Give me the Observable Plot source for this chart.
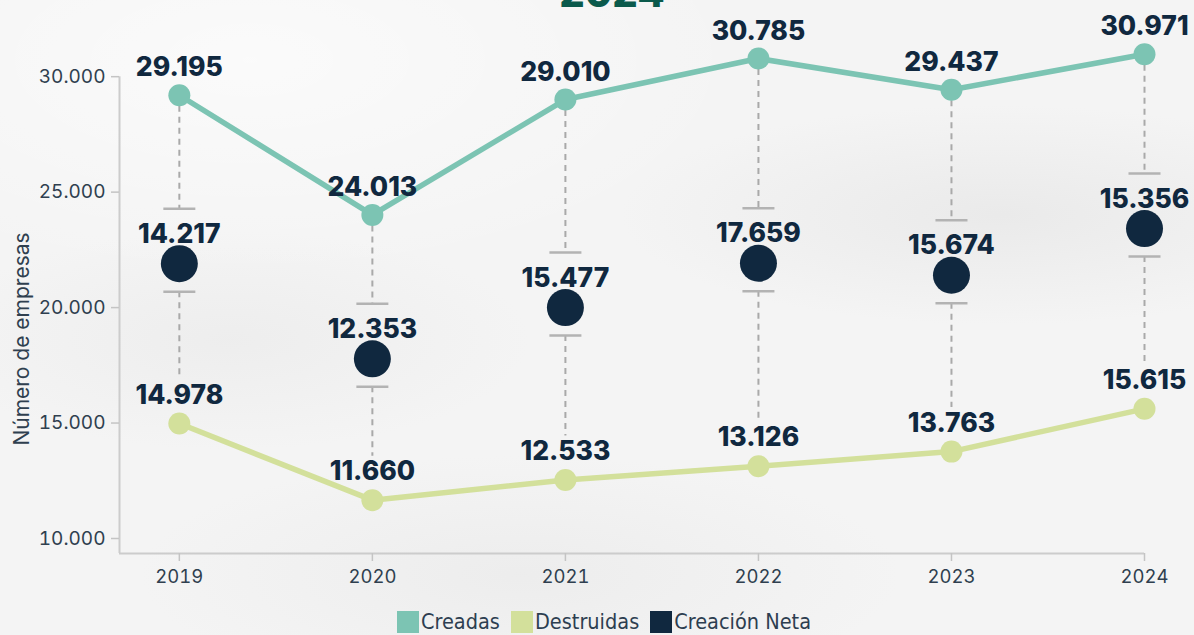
<!DOCTYPE html>
<html>
<head>
<meta charset="utf-8">
<script src="https://cdn.jsdelivr.net/npm/d3@7"></script>
<script src="https://cdn.jsdelivr.net/npm/@observablehq/plot@0.6"></script>
<style>
  html, body { margin: 0; padding: 0; }
  body {
    width: 1194px; height: 635px; overflow: hidden; position: relative;
    background:
      radial-gradient(ellipse 380px 110px at 1000px 215px, rgba(215,215,215,0.35), rgba(215,215,215,0) 100%),
      radial-gradient(ellipse 380px 120px at 520px 575px, rgba(220,220,220,0.30), rgba(220,220,220,0) 100%),
      radial-gradient(ellipse 300px 110px at 230px 340px, rgba(222,222,222,0.30), rgba(222,222,222,0) 100%),
      radial-gradient(ellipse 500px 220px at 250px 60px, rgba(255,255,255,0.6), rgba(255,255,255,0) 100%),
      #f4f4f4;
    font-family: Inter, sans-serif;
  }
  #title {
    position: absolute; top: -27px; left: 0; width: 1194px; padding-left: 30px; box-sizing: border-box;
    text-align: center; font: 800 40px/40px Inter, sans-serif; color: #0b5a4c;
  }
  #legend {
    position: absolute; top: 609px; left: 0; width: 1194px; padding-left: 14px; box-sizing: border-box;
    display: flex; justify-content: center; gap: 11px;
    font-family: "DejaVu Sans Condensed", "Liberation Sans Narrow", sans-serif; font-stretch: condensed;
    font-size: 21.5px; color: #2d3e50; line-height: 25px;
  }
  #legend .item { display: flex; align-items: center; gap: 2px; }
  #legend .sw { width: 22px; height: 22px; display: inline-block; }
</style>
</head>
<body>
<div id="title">2024</div>
<div id="chart"></div>
<div id="legend"></div>
<script>
// ---- data ----
const years = [2019, 2020, 2021, 2022, 2023, 2024];
const creadas = [29195, 24013, 29010, 30785, 29437, 30971];
const destruidas = [14978, 11660, 12533, 13126, 13763, 15615];
const neta = [14217, 12353, 15477, 17659, 15674, 15356];
// vertical position of the "Creación Neta" dot as drawn in the picture
const netaPos = [21900, 17780, 20000, 21920, 21400, 23420];
const yTicks = [10000, 15000, 20000, 25000, 30000];
const seriesNames = ["Creadas", "Destruidas", "Creación Neta"];
const seriesColors = ["#7cc4b3", "#d3e09b", "#10283f"];

const xDomain = [2018.69, 2024];
const yDomain = [9350, 32000];

const rows = years.map((year, i) => ({
  year, creadas: creadas[i], destruidas: destruidas[i], neta: neta[i], pos: netaPos[i]
}));

const fmt = d3.formatLocale({decimal: ",", thousands: ".", grouping: [3], currency: ["", "€"]}).format(",d");

const capSymbol = {
  draw(context) { context.moveTo(-16, 0); context.lineTo(16, 0); }
};

const labelFont = {fontFamily: "Inter, sans-serif", fontWeight: 800, fontSize: 26.5, fill: "#10283f", lineAnchor: "bottom", textAnchor: "middle"};

const chart = Plot.plot({
  width: 1194,
  height: 605,
  marginLeft: 119,
  marginRight: 50,
  marginTop: 30,
  marginBottom: 52,
  style: {background: "transparent", overflow: "visible", fontFamily: "Inter, sans-serif"},
  x: {type: "linear", domain: xDomain},
  y: {type: "linear", domain: yDomain},
  marks: [
    // axis lines
    Plot.ruleX([xDomain[0]], {y1: yTicks[yTicks.length - 1], y2: yDomain[0], stroke: "#cccccc", strokeWidth: 2}),
    Plot.ruleY([yDomain[0]], {x1: xDomain[0], x2: years[years.length - 1], stroke: "#cccccc", strokeWidth: 2}),
    Plot.axisY({ticks: yTicks, tickFormat: fmt, tickSize: 8, tickPadding: 6, stroke: "#c4c4c4", strokeWidth: 1.5,
      fill: "#2f3f4f", fontSize: 19, label: null}),
    Plot.axisX({ticks: years, tickFormat: d => String(d), tickSize: 8, tickPadding: 8, stroke: "#c4c4c4", strokeWidth: 1.5,
      fill: "#2f3f4f", fontSize: 18.5, label: null}),
    Plot.text(["Número de empresas"], {frameAnchor: "left", textAnchor: "middle", rotate: -90, dx: -97, dy: 47, fontSize: 21, fill: "#2f3f4f"}),
    // dashed connectors
    Plot.ruleX(rows, {x: "year", y1: "creadas", y2: "pos", insetBottom: 55, stroke: "#a9a9a9", strokeWidth: 2, strokeDasharray: "6,5"}),
    Plot.ruleX(rows, {x: "year", y1: "pos", y2: "destruidas", insetTop: 28, insetBottom: 44, stroke: "#a9a9a9", strokeWidth: 2, strokeDasharray: "6,5"}),
    // caps
    Plot.dot(rows, {x: "year", y: "pos", dy: -55, symbol: capSymbol, stroke: "#b3b3b3", strokeWidth: 2.5, fill: "none"}),
    Plot.dot(rows, {x: "year", y: "pos", dy: 28, symbol: capSymbol, stroke: "#b3b3b3", strokeWidth: 2.5, fill: "none"}),
    // lines
    Plot.line(rows, {x: "year", y: "creadas", stroke: seriesColors[0], strokeWidth: 5.5}),
    Plot.line(rows, {x: "year", y: "destruidas", stroke: seriesColors[1], strokeWidth: 5.5}),
    Plot.dot(rows, {x: "year", y: "creadas", r: 11, fill: seriesColors[0]}),
    Plot.dot(rows, {x: "year", y: "destruidas", r: 11, fill: seriesColors[1]}),
    Plot.dot(rows, {x: "year", y: "pos", r: 18.5, fill: seriesColors[2]}),
    // labels
    Plot.text(rows, {x: "year", y: "creadas", text: d => fmt(d.creadas), dy: -19, ...labelFont}),
    Plot.text(rows, {x: "year", y: "destruidas", text: d => fmt(d.destruidas), dy: -20, ...labelFont}),
    Plot.text(rows, {x: "year", y: "pos", text: d => fmt(d.neta), dy: -21, ...labelFont})
  ]
});
document.getElementById("chart").append(chart);

const legend = document.getElementById("legend");
seriesNames.forEach((name, i) => {
  const item = document.createElement("span");
  item.className = "item";
  const sw = document.createElement("span");
  sw.className = "sw";
  sw.style.background = seriesColors[i];
  const t = document.createElement("span");
  t.textContent = name;
  item.append(sw, t);
  legend.append(item);
});
</script>
</body>
</html>
